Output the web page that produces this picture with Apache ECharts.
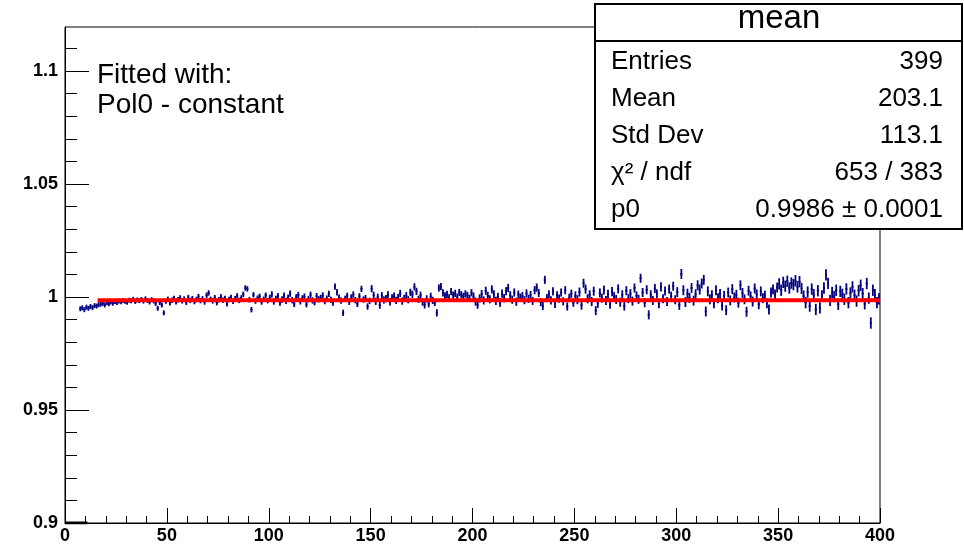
<!DOCTYPE html>
<html>
<head>
<meta charset="utf-8">
<script src="https://cdn.jsdelivr.net/npm/echarts@6/dist/echarts.min.js"></script>
<style>
html,body{margin:0;padding:0;background:#fff;}
#chart{width:964px;height:550px;}
</style>
</head>
<body>
<div id="chart"></div>
<script>
// ---- data ----
const firstBin = 7;            // first filled bin (lower edge)
const binValues = [
 0.9948,0.9952,0.9944,0.9955,0.9950,0.9958,0.9953,0.9962,0.9960,0.9966,
 0.9968,0.9972,0.9965,0.9975,0.9970,0.9978,0.9973,0.9980,0.9976,0.9982,
 0.9979,0.9985,0.9981,0.9977,0.9986,0.9983,0.9990,0.9980,0.9987,0.9984,
 0.9989,0.9982,0.9992,0.9985,0.9978,0.9988,0.9983,0.9972,0.9950,0.9976,
 0.9965,0.9930,0.9981,0.9990,0.9975,0.9986,0.9994,0.9979,0.9988,0.9996,
 0.9983,0.9991,0.9977,0.9998,0.9985,0.9993,0.9980,0.9989,1.0002,0.9984,
 0.9992,0.9978,1.0008,1.0018,0.9990,0.9983,0.9997,0.9975,0.9988,1.0001,
 0.9986,0.9994,0.9970,0.9989,0.9998,0.9981,0.9993,1.0005,0.9985,0.9996,
 1.0012,1.0040,1.0036,0.9988,0.9944,1.0010,0.9982,0.9995,1.0003,0.9978,
 0.9990,1.0008,0.9984,0.9996,1.0012,0.9980,0.9992,1.0004,0.9975,0.9989,
 1.0006,0.9983,0.9997,1.0015,0.9986,0.9970,0.9999,1.0009,0.9981,0.9994,
 1.0002,0.9968,0.9991,1.0010,0.9985,0.9977,1.0004,0.9990,0.9996,1.0007,
 0.9982,0.9993,1.0014,0.9988,0.9975,1.0046,1.0021,0.9997,0.9984,0.9930,
 0.9992,1.0005,0.9979,0.9998,1.0011,0.9986,0.9970,1.0003,1.0036,0.9989,
 0.9995,0.9958,0.9983,1.0037,1.0008,0.9981,0.9999,0.9964,1.0006,0.9987,
 0.9993,1.0010,0.9979,0.9996,1.0004,0.9985,0.9998,1.0016,0.9982,0.9994,
 1.0006,0.9988,1.0021,1.0012,1.0045,1.0025,0.9990,1.0008,0.9978,0.9965,
 0.9992,0.9970,1.0003,0.9985,0.9976,0.9930,1.0040,1.0046,1.0018,1.0005,
 1.0012,0.9996,1.0024,1.0008,1.0016,0.9999,1.0020,1.0010,1.0003,1.0014,
 1.0007,0.9995,1.0019,1.0002,0.9980,0.9966,0.9994,1.0013,0.9985,1.0028,
 1.0005,0.9990,1.0034,1.0012,0.9983,1.0001,0.9975,1.0015,0.9995,1.0026,
 1.0040,1.0008,0.9988,1.0020,0.9979,1.0011,0.9997,1.0004,0.9986,1.0016,
 0.9992,1.0009,0.9983,1.0030,1.0042,1.0018,0.9978,0.9960,1.0076,0.9995,
 1.0012,0.9985,1.0025,0.9970,1.0008,0.9993,1.0020,0.9981,1.0030,0.9958,
 0.9997,1.0015,0.9975,1.0005,0.9988,1.0022,0.9964,1.0061,1.0035,0.9992,
 1.0010,0.9980,1.0026,0.9940,0.9972,1.0018,0.9995,1.0031,0.9985,1.0012,
 0.9968,1.0024,1.0002,0.9989,1.0036,0.9977,1.0010,0.9960,1.0028,0.9993,
 1.0015,0.9982,1.0040,1.0005,0.9990,1.0083,1.0020,0.9975,1.0032,0.9921,
 1.0010,0.9985,1.0038,1.0014,0.9970,1.0045,0.9992,1.0027,0.9980,1.0035,
 1.0004,1.0048,0.9988,1.0022,0.9965,1.0102,1.0030,0.9978,1.0015,0.9996,
 1.0040,0.9984,1.0012,1.0052,1.0033,1.0060,1.0076,0.9936,1.0025,0.9990,
 1.0008,0.9972,1.0030,0.9995,1.0014,0.9962,1.0005,0.9942,1.0020,0.9985,
 1.0035,0.9998,1.0010,0.9975,1.0052,1.0018,0.9990,0.9935,1.0028,1.0003,
 0.9980,1.0038,1.0012,0.9968,1.0025,0.9995,1.0006,0.9972,0.9945,1.0020,
 1.0034,1.0011,1.0042,1.0058,1.0030,1.0065,1.0048,1.0070,1.0040,1.0062,
 1.0055,1.0072,1.0045,1.0068,1.0038,1.0004,0.9975,1.0022,0.9960,1.0035,
 1.0010,0.9945,1.0028,0.9952,1.0005,1.0040,1.0098,1.0060,0.9985,1.0020,
 1.0002,1.0030,0.9968,1.0025,1.0012,0.9990,1.0036,0.9975,1.0018,1.0045,
 1.0008,0.9982,1.0028,1.0052,1.0015,0.9970,1.0060,0.9995,0.9885,1.0030,
 1.0010,0.9975,0.9992
];
// error size per range of bins (bin lower edges given by errBandStarts)
const errBandStarts = [0, 50, 100, 150, 200, 250, 300, 350];
const errBandSizes  = [0.0011, 0.0012, 0.0014, 0.0016, 0.0018, 0.0020, 0.0022, 0.0025];
const emptyBinRange = [0, 11];     // empty bins drawn on the bottom of the frame
const fitP0 = 0.9986;
const fitRange = [16, 400];
const xTicks = [0, 50, 100, 150, 200, 250, 300, 350, 400];
const yTickLabels = ['0.9', '0.95', '1', '1.05', '1.1'];
const statsTitle = 'mean';
const statsNames  = ['Entries', 'Mean', 'Std Dev', 'χ² / ndf', 'p0'];
const statsValues = ['399', '203.1', '113.1', '653 / 383', '0.9986 ± 0.0001'];
const noteLines = ['Fitted with:', 'Pol0 - constant'];

// ---- build ----
function errFor(bin) {
  let e = errBandSizes[0];
  for (let k = 0; k < errBandStarts.length; k++) if (bin >= errBandStarts[k]) e = errBandSizes[k];
  return e;
}
const pts = binValues.map((v, i) => {
  const lo = firstBin + i;
  return [lo + 0.5, v, errFor(lo)];
});

const FONT = '"Liberation Sans", Arial, sans-serif';
const chart = echarts.init(document.getElementById('chart'), null, {renderer: 'canvas'});
const yMin = 0.9, yMax = 1.1195;

const option = {
  animation: false,
  backgroundColor: '#fff',
  grid: {left: 65, top: 27, width: 815, height: 496, show: true, borderColor: '#000', borderWidth: 1, backgroundColor: 'transparent'},
  xAxis: {
    type: 'value', min: xTicks[0], max: xTicks[xTicks.length - 1], interval: 50,
    axisLine: {show: true, onZero: false, lineStyle: {color: '#000', width: 1}},
    axisTick: {show: true, inside: true, length: 15, lineStyle: {color: '#000'}},
    minorTick: {show: true, splitNumber: 5, length: 7, lineStyle: {color: '#000'}},
    splitLine: {show: false},
    axisLabel: {color: '#000', fontFamily: FONT, fontSize: 18, fontWeight: 'bold', margin: 4, formatter: v => String(v)}
  },
  yAxis: [
    {
      type: 'value', min: yMin, max: yMax, position: 'left',
      axisLine: {show: true, onZero: false, lineStyle: {color: '#000'}},
      axisTick: {show: true, inside: true, length: 24, customValues: [0.9, 0.95, 1.0, 1.05, 1.1], lineStyle: {color: '#000'}},
      axisLabel: {show: true, customValues: [0.9, 0.95, 1.0, 1.05, 1.1], color: '#000', fontFamily: FONT, fontSize: 18, fontWeight: 'bold', margin: 7,
        formatter: v => yTickLabels[Math.round((v - 0.9) / 0.05)]},
      splitLine: {show: false}
    },
    {
      type: 'value', min: yMin, max: yMax, position: 'left',
      axisLine: {show: false},
      axisTick: {show: true, inside: true, length: 12,
        customValues: [0.91,0.92,0.93,0.94,0.96,0.97,0.98,0.99,1.01,1.02,1.03,1.04,1.06,1.07,1.08,1.09,1.11], lineStyle: {color: '#000'}},
      axisLabel: {show: false},
      splitLine: {show: false}
    }
  ],
  series: [
    {
      type: 'custom', name: 'mean', xAxisIndex: 0, yAxisIndex: 0, z: 3,
      data: pts,
      renderItem: function (params, api) {
        const x = api.value(0), y = api.value(1), e = api.value(2);
        const l = api.coord([x - 0.5, y]), r = api.coord([x + 0.5, y]);
        const t = api.coord([x, y + e]), b = api.coord([x, y - e]);
        const st = {stroke: '#000080', lineWidth: 1.8};
        return {type: 'group', children: [
          {type: 'line', shape: {x1: l[0], y1: l[1], x2: r[0], y2: r[1]}, style: st},
          {type: 'line', shape: {x1: t[0], y1: t[1], x2: b[0], y2: b[1]}, style: st}
        ]};
      }
    },
    {
      type: 'line', name: 'empty', z: 4, symbol: 'none', silent: true,
      data: [[emptyBinRange[0], yMin], [emptyBinRange[1], yMin]],
      lineStyle: {color: '#000', width: 3}
    },
    {
      type: 'line', name: 'pol0', z: 5, symbol: 'none', silent: true,
      data: [[fitRange[0], fitP0], [fitRange[1], fitP0]],
      lineStyle: {color: '#ff0000', width: 4}
    }
  ],
  graphic: [
    {type: 'text', x: 97, y: 75, z: 10, style: {text: noteLines[0], font: '28px ' + FONT, fill: '#000', verticalAlign: 'middle'}},
    {type: 'text', x: 97, y: 105, z: 10, style: {text: noteLines[1], font: '28px ' + FONT, fill: '#000', verticalAlign: 'middle'}},
    {type: 'rect', z: 20, shape: {x: 595, y: 4, width: 367, height: 225}, style: {fill: '#fff', stroke: '#000', lineWidth: 2}},
    {type: 'line', z: 21, shape: {x1: 595, y1: 41, x2: 962, y2: 41}, style: {stroke: '#000', lineWidth: 2}},
    {type: 'text', z: 22, x: 779, y: 19, style: {text: statsTitle, font: '33px ' + FONT, fill: '#000', align: 'center', verticalAlign: 'middle'}}
  ].concat(statsNames.map((n, i) => ({type: 'text', z: 22, x: 611, y: 62 + i * 37,
      style: {text: n, font: '26px ' + FONT, fill: '#000', align: 'left', verticalAlign: 'middle'}})))
   .concat(statsValues.map((n, i) => ({type: 'text', z: 22, x: 943, y: 62 + i * 37,
      style: {text: n, font: '26px ' + FONT, fill: '#000', align: 'right', verticalAlign: 'middle'}})))
};
chart.setOption(option);
</script>
</body>
</html>
